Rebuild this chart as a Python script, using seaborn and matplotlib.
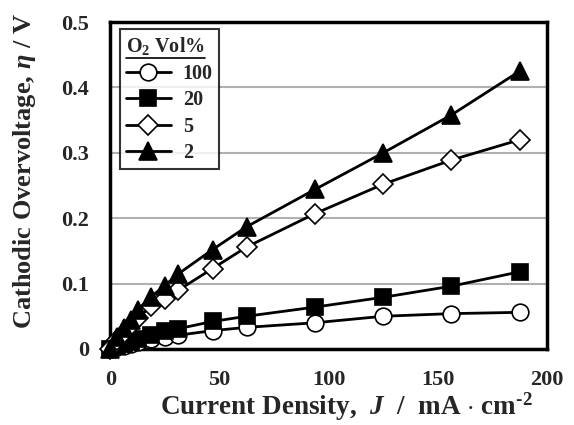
import pandas as pd
import matplotlib.pyplot as plt
import seaborn as sns
from matplotlib.lines import Line2D

# current density J (mA/cm2) and cathodic overvoltage eta (V) per O2 vol%
J = [0, 3.125, 6.25, 9.375, 12.5, 18.75, 25, 31.25, 46.875, 62.5, 93.75, 125, 156.25, 187.5]
eta_100 = [0, 0.003, 0.005, 0.008, 0.010, 0.015, 0.018, 0.021, 0.028, 0.033, 0.040, 0.050, 0.054, 0.056]
eta_20 = [0, 0.004, 0.007, 0.011, 0.015, 0.022, 0.027, 0.031, 0.042, 0.050, 0.064, 0.079, 0.096, 0.118]
eta_5 = [0, 0.013, 0.025, 0.036, 0.047, 0.065, 0.077, 0.090, 0.123, 0.156, 0.207, 0.252, 0.289, 0.320]
eta_2 = [0, 0.018, 0.032, 0.044, 0.059, 0.080, 0.097, 0.115, 0.152, 0.187, 0.244, 0.300, 0.358, 0.425]

labels = ['100', '20', '5', '2']
series = [eta_100, eta_20, eta_5, eta_2]
markers = ['o', 's', 'D', '^']
facecolors = ['white', 'black', 'white', 'black']
msizes = [12, 11, 10, 13]

sns.set_style('white')
plt.rcParams['font.family'] = ['Liberation Serif', 'DejaVu Serif']
plt.rcParams['font.weight'] = 'bold'
plt.rcParams['mathtext.fontset'] = 'custom'
plt.rcParams['mathtext.rm'] = 'Liberation Serif:bold'
plt.rcParams['mathtext.bf'] = 'Liberation Serif:bold'
plt.rcParams['mathtext.it'] = 'Liberation Serif:italic:bold'

fig = plt.figure(figsize=(5.74, 4.25), dpi=100)
ax = fig.add_axes([0.192, 0.179, 0.761, 0.769])

for lab, y, m, fc, ms in zip(labels, series, markers, facecolors, msizes):
    df = pd.DataFrame({'J': J, 'eta': y})
    sns.lineplot(data=df, x='J', y='eta', ax=ax, color='black', linewidth=2,
                 marker=m, markersize=ms, markerfacecolor=fc,
                 markeredgecolor='black', markeredgewidth=1.2,
                 label=lab, clip_on=False, zorder=3)

ax.set_xlim(0, 200)
ax.set_ylim(0, 0.5)
ax.set_xticks([0, 50, 100, 150, 200])
ax.set_yticks([0, 0.1, 0.2, 0.3, 0.4, 0.5])
ax.set_yticklabels(['0', '0.1', '0.2', '0.3', '0.4', '0.5'])
ax.yaxis.grid(True, color='#b0b0b0', linewidth=1.5)
ax.xaxis.grid(False)
ax.tick_params(axis='x', direction='in', length=6, color='#999999', pad=15, labelsize=16)
ax.tick_params(axis='y', length=0, pad=15, labelsize=16)
for lbl in ax.get_xticklabels() + ax.get_yticklabels():
    lbl.set_fontweight('bold')
for s in ax.spines.values():
    s.set_color('black')
    s.set_linewidth(2.5)

ax.set_xlabel(r'Current Density,  $J$  /  mA $\cdot$ cm$^{\text{-2}}$', fontsize=19.5, fontweight='bold')
ax.set_ylabel(r'Cathodic Overvoltage, $\eta$ / V', fontsize=19, fontweight='bold')
ax.xaxis.set_label_coords(0.54, -0.128)
ax.yaxis.set_label_coords(-0.165, 0.545)

leg = ax.legend(title=r'O$_2$ Vol%', loc='upper left',
                bbox_to_anchor=(0.023, 0.978), frameon=True, fancybox=False,
                edgecolor='black', prop={'weight': 'bold', 'size': 14.5},
                title_fontsize=14.5, handlelength=2.2, borderpad=0.3,
                labelspacing=0.32, handletextpad=0.6, borderaxespad=0)
leg.get_frame().set_linewidth(1.5)
leg._legend_box.align = 'left'
leg.get_title().set_fontweight('bold')

# underline the legend title
fig.canvas.draw()
bb = leg.get_title().get_window_extent().transformed(fig.transFigure.inverted())
fig.add_artist(Line2D([bb.x0, bb.x1], [bb.y0 - 0.002, bb.y0 - 0.002],
                      transform=fig.transFigure, color='black', linewidth=1.2))

fig.savefig('out.png', dpi=100)
